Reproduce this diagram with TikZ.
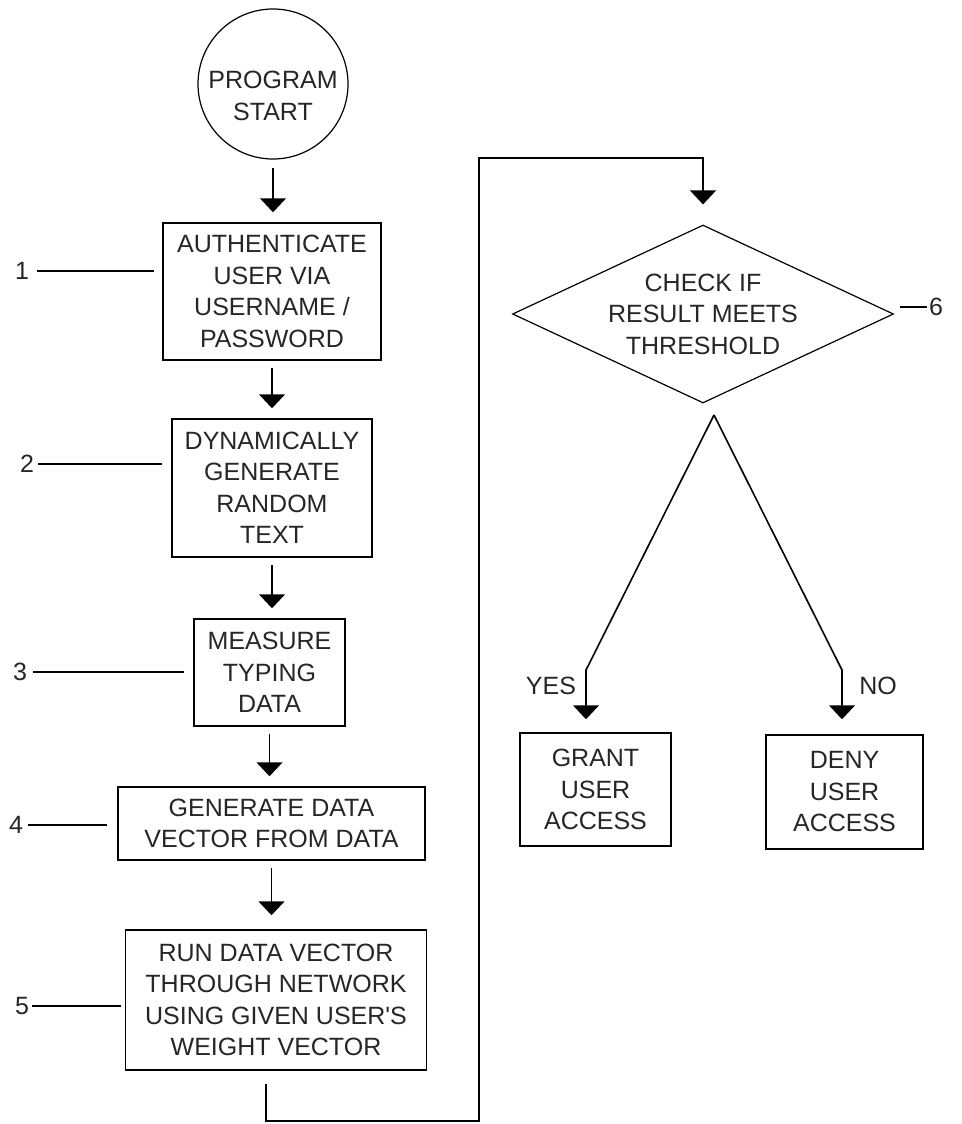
\documentclass[tikz,border=0pt]{standalone}
\usepackage{fontspec}
\setmainfont{Liberation Sans}
\usetikzlibrary{arrows.meta, shapes.geometric}

\begin{document}
\begin{tikzpicture}[x=1pt, y=-1pt,
  every node/.style={font=\fontsize{25}{31.5}\selectfont, text=black!85},
  stepbox/.style={draw, line width=1.5pt, align=center, inner sep=0pt},
  startcirc/.style={draw, circle, line width=1.2pt, minimum size=150pt, inner sep=0pt},
  decision/.style={draw, diamond, aspect=2.1, line width=1.2pt, inner sep=0pt, align=center},
  flow/.style={-{Triangle[width=26pt,length=14pt]}, line width=1.6pt, shorten <=7pt, shorten >=10pt},
  lead/.style={line width=1.5pt},
  num/.style={inner sep=0pt}]
  % Ablauf der Anmeldung
  \useasboundingbox (0,0) rectangle (961,1124);

  \node[startcirc, label={[align=center, yshift=-12pt]center:{PROGRAM\\START}}] (start) at (273,84) {};
  \node[stepbox, minimum width=218pt, minimum height=137pt] (auth) at (272,291.5) {AUTHENTICATE\\USER VIA\\USERNAME /\\PASSWORD};
  \node[stepbox, minimum width=200pt, minimum height=138pt] (gentext) at (272,488) {DYNAMICALLY\\GENERATE\\RANDOM\\TEXT};
  \node[stepbox, minimum width=151pt, minimum height=107pt] (measure) at (269.5,672.5) {MEASURE\\TYPING\\DATA};
  \node[stepbox, minimum width=307pt, minimum height=73pt] (vector) at (271.5,823.5) {GENERATE DATA\\VECTOR FROM DATA};
  \node[stepbox, minimum width=301pt, minimum height=140pt] (runnet) at (276,1000) {RUN DATA VECTOR\\THROUGH NETWORK\\USING GIVEN USER\textquotesingle S\\WEIGHT VECTOR};
  \node[decision, minimum width=381pt, minimum height=178pt] (check) at (703,314) {CHECK IF\\RESULT MEETS\\THRESHOLD};
  \node[stepbox, minimum width=151pt, minimum height=113pt] (grant) at (595.5,789.5) {GRANT\\USER\\ACCESS};
  \node[stepbox, minimum width=157pt, minimum height=114pt] (deny) at (844.5,792) {DENY\\USER\\ACCESS};

  \node[num] (n1) at (22,271) {1};
  \node[num] (n2) at (27,464) {2};
  \node[num] (n3) at (20,672) {3};
  \node[num] (n4) at (16,825) {4};
  \node[num] (n5) at (22,1006) {5};
  \node[num] (n6) at (936,307) {6};
  \draw[lead, shorten <=8pt, shorten >=8pt] (n1.east) -- (n1 -| auth.west);
  \draw[lead, shorten <=4pt, shorten >=9pt] (n2.east) -- (n2 -| gentext.west);
  \draw[lead, shorten <=6pt, shorten >=9pt] (n3.east) -- (n3 -| measure.west);
  \draw[lead, shorten <=5pt, shorten >=10pt] (n4.east) -- (n4 -| vector.west);
  \draw[lead, shorten <=3pt, shorten >=4pt] (n5.east) -- (n5 -| runnet.west);
  \draw[lead, shorten <=2pt, shorten >=6pt] (n6.west) -- (n6 -| check.east);

  \draw[flow, shorten <=8pt] (start.south) -- (start.south |- auth.north);
  \draw[flow] (auth.south) -- (auth.south |- gentext.north);
  \draw[flow] (gentext.south) -- (gentext.south |- measure.north);
  \draw[flow] (measure.south) -- (measure.south |- vector.north);
  \draw[flow, shorten >=14pt] (vector.south) -- (vector.south |- runnet.north);

  \coordinate (loopbot) at (479,1121);
  \coordinate (looptop) at (479,158);
  \draw[flow, shorten <=13pt, shorten >=20pt] ([xshift=-10pt]runnet.south) |- (loopbot) -- (looptop) -| (check.north);

  \coordinate (fork) at (714,415);
  \coordinate (yesbend) at (586,670);
  \coordinate (nobend) at (842,670);
  \draw[flow, shorten <=0pt, shorten >=13pt] (fork) -- (yesbend) -- (yesbend |- grant.north);
  \draw[flow, shorten <=0pt, shorten >=15pt] (fork) -- (nobend) -- (nobend |- deny.north);
  \node (yes) at (551,686) {YES};
  \node (no) at (878,686) {NO};
\end{tikzpicture}
\end{document}
